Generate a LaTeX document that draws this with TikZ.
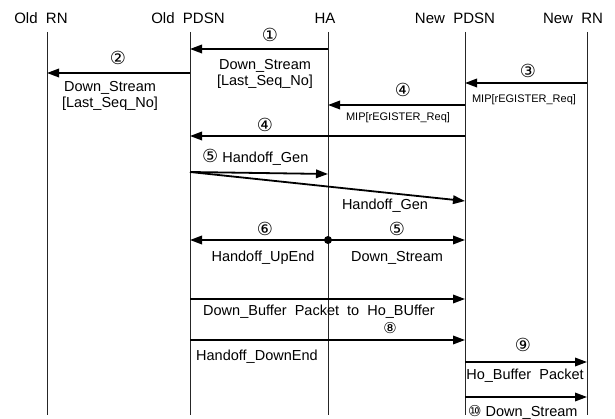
\documentclass[tikz,border=0pt]{standalone}
\usepackage{fontspec}
\setmainfont{Liberation Sans}
\newfontfamily\circfont{DejaVu Sans}
\usetikzlibrary{arrows.meta,positioning,calc}

\begin{document}
\begin{tikzpicture}[
  x=1pt, y=-1pt,
  font=\fontsize{14.5}{16}\selectfont,
  % -- lifelines, messages, labels --
  hd/.style={font=\fontsize{15}{17}\selectfont, inner sep=0pt},
  life/.style={line width=0.8pt, black!85},
  msg/.style={-{Triangle[length=12pt,width=8.5pt]}, line width=1.8pt},
  lb/.style={inner sep=0pt, align=center},
  sm/.style={inner sep=0pt, font=\fontsize{11}{13}\selectfont},
  nr/.style={inner sep=0pt, font=\circfont\fontsize{18}{20}\selectfont},
]
\useasboundingbox (0,0) rectangle (615,419);

% === columns ===
\def\cORN{47} \def\cOPD{190} \def\cHA{328} \def\cNPD{465} \def\cNRN{587}

% -- headers --
\node[hd] (hORN) at (41,18)  {Old\ \ RN};
\node[hd] (hOPD) at (188,18) {Old\ \ PDSN};
\node[hd] (hHA)  at (325,18) {HA};
\node[hd] (hNPD) at (455,18) {New\ \ PDSN};
\node[hd] (hNRN) at (573,18) {New\ \ RN};

% -- lifelines --
\foreach \n/\x in {orn/\cORN, opd/\cOPD, ha/\cHA, npd/\cNPD, nrn/\cNRN}{
  \coordinate (\n) at (\x,32);
  \coordinate (\n B) at (\x,415);
  \draw[life] (\n) -- (\n B);
}

% -- 1, 2 --
\draw[msg] (ha |- 0,49) -- (opd |- 0,49);
\node[nr] (n1) at (270,35) {①};
\node[lb] (t1) at (265,74) {Down\_Stream\\{[}Last\_Seq\_No{]}};
\draw[msg] (opd |- 0,73) -- (orn |- 0,73);
\node[nr] (n2) at (118,58) {②};
\node[lb] (t2) at (110,96) {Down\_Stream\\{[}Last\_Seq\_No{]}};

% -- 3, 4 --
\draw[msg] (nrn |- 0,83) -- (npd |- 0,83);
\node[nr] (n3) at (528,71) {③};
\node[sm] (t3) at (524,100) {MIP{[}rEGISTER\_Req{]}};
\draw[msg] (npd |- 0,105) -- (ha |- 0,105);
\node[nr] (n4) at (403,90) {④};
\node[sm] (t4) at (398,118) {MIP{[}rEGISTER\_Req{]}};
\draw[msg] (npd |- 0,136) -- (opd |- 0,136);
\node[nr] (n4b) at (265,125) {④};

% -- 5 --
\node[inner sep=0pt, anchor=west] (t5) at (202,157) {{\circfont\fontsize{18}{20}\selectfont ⑤}\ Handoff\_Gen};
\draw[msg] (opd |- 0,172) -- (ha |- 0,174);
\draw[msg] (opd |- 0,172) -- (npd |- 0,201);
\node[lb] (t5b) at (385,206) {Handoff\_Gen};

% -- 6 --
\fill (ha |- 0,240) circle (4pt) coordinate (dot);
\draw[msg] (dot) -- (opd |- dot);
\draw[msg] (dot) -- (npd |- dot);
\node[nr] (n6) at (265,229) {⑥};
\node[nr] (n5) at (397,229) {⑤};
\node[lb] (t6) at (263,258) {Handoff\_UpEnd};
\node[lb] (t5c) at (397,258) {Down\_Stream};

% -- 7, 8 --
\draw[msg] (opd |- 0,299) -- (npd |- 0,299);
\node[lb] (t7) at (319,312) {Down\_Buffer\ \ Packet\ \ to\ \ Ho\_BUffer};
\draw[msg] (opd |- 0,340) -- (npd |- 0,340);
\node[nr, font=\circfont\fontsize{15}{17}\selectfont] (n8) at (390,328) {⑧};
\node[inner sep=0pt, anchor=west] (t8) at (196,357) {Handoff\_DownEnd};

% -- 9, 10 --
\draw[msg] (npd |- 0,362) -- (nrn |- 0,362);
\node[nr] (n9) at (523,345) {⑨};
\node[lb] (t9) at (525,376) {Ho\_Buffer\ \ Packet};
\draw[msg] (npd |- 0,397) -- (nrn |- 0,397);
\node[inner sep=0pt, anchor=west] (t10) at (468,412) {{\circfont\fontsize{15}{17}\selectfont ⑩}\ Down\_Stream};
\end{tikzpicture}
\end{document}
